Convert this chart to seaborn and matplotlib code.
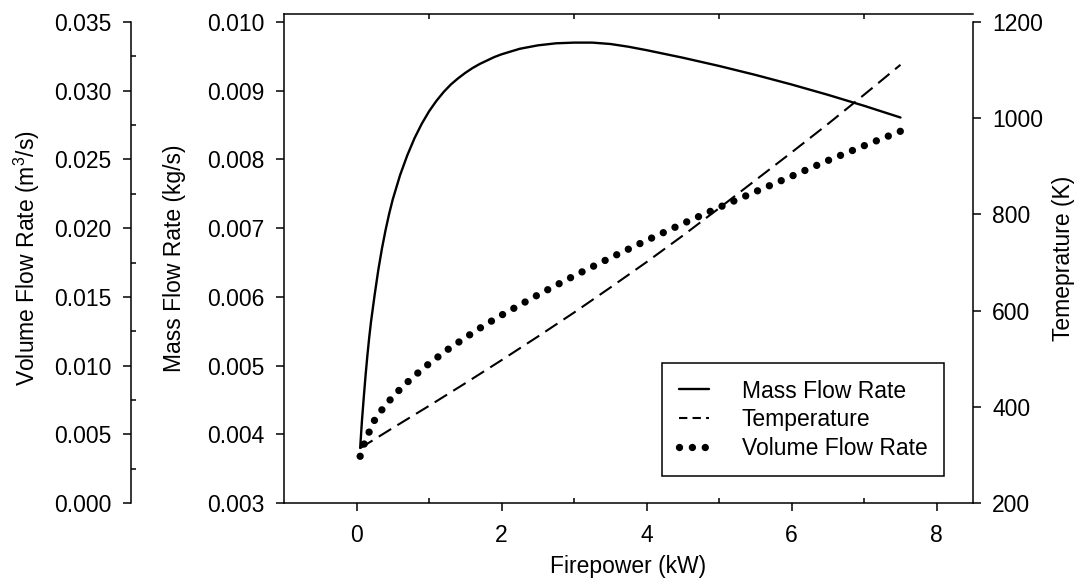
import matplotlib
matplotlib.use("Agg")
import matplotlib.pyplot as plt
from matplotlib.ticker import FixedLocator, FormatStrFormatter
from matplotlib.lines import Line2D
import seaborn as sns

# ---- data ----
mass_x = [0.05, 0.075, 0.10, 0.125, 0.15, 0.175, 0.20, 0.25, 0.30, 0.35, 0.40, 0.45,
          0.50, 0.60, 0.70, 0.80, 0.90, 1.00, 1.10, 1.20, 1.30, 1.40, 1.50, 1.60,
          1.70, 1.80, 1.90, 2.00, 2.25, 2.50, 2.75, 3.00, 3.25, 3.50, 3.75, 4.00,
          4.50, 5.00, 5.50, 6.00, 6.50, 7.00, 7.50]
mass_flow = [0.00380, 0.00420, 0.00454, 0.00486, 0.00515, 0.00541, 0.00564, 0.00603,
             0.00639, 0.00670, 0.00697, 0.00721, 0.00742, 0.00777, 0.00806, 0.00831,
             0.00852, 0.00870, 0.00885, 0.00898, 0.00909, 0.00918, 0.00926, 0.00933,
             0.00939, 0.00944, 0.00949, 0.00953, 0.00961, 0.00966, 0.00969, 0.00970,
             0.00970, 0.00968, 0.00964, 0.00959, 0.00948, 0.00936, 0.00923, 0.00909,
             0.00894, 0.00878, 0.00861]

temp_x = [0.05, 0.5, 1.0, 1.5, 2.0, 2.5, 3.0, 3.5, 4.0, 4.5, 5.0, 5.5, 6.0, 6.5,
          7.0, 7.5]
temperature = [314, 356, 402, 449, 497, 546, 596, 648, 701, 756, 813, 871, 929, 988,
               1049, 1111]

vol_x = [0.05, 0.10, 0.15, 0.20, 0.25, 0.35, 0.40, 0.50, 0.65, 0.80, 1.00, 1.25,
         1.50, 1.75, 2.00, 2.50, 3.00, 3.50, 4.00, 4.50, 5.00, 5.50, 6.00, 6.50,
         7.00, 7.50]
volume_flow = [0.00340, 0.00422, 0.00488, 0.00548, 0.00604, 0.00678, 0.00710, 0.00774,
               0.00854, 0.00926, 0.01014, 0.01114, 0.01203, 0.01289, 0.01367, 0.01514,
               0.01653, 0.01784, 0.01911, 0.02033, 0.02151, 0.02265, 0.02378, 0.02492,
               0.02600, 0.02705]

x_major = [0, 2, 4, 6, 8]
x_minor = [1, 3, 5, 7]
mass_ticks = [0.003, 0.004, 0.005, 0.006, 0.007, 0.008, 0.009, 0.010]
temp_ticks = [200, 400, 600, 800, 1000, 1200]
vol_ticks = [0.000, 0.005, 0.010, 0.015, 0.020, 0.025, 0.030, 0.035]
vol_minor = [0.0025, 0.0075, 0.0125, 0.0175, 0.0225, 0.0275, 0.0325]

series_labels = ["Mass Flow Rate", "Temperature", "Volume Flow Rate"]

sns.set_theme(style="ticks")
plt.rcParams['font.family'] = ['Liberation Sans', 'DejaVu Sans']
plt.rcParams['mathtext.fontset'] = 'custom'
plt.rcParams['mathtext.rm'] = 'Liberation Sans'
plt.rcParams['mathtext.it'] = 'Liberation Sans'
FS = 16.5

W, H = 1079, 583
fig = plt.figure(figsize=(W / 100, H / 100), dpi=100)
fig.patch.set_facecolor('white')
L, R, T, B = 284, 973, 14, 503
ax = fig.add_axes([L / W, 1 - B / H, (R - L) / W, (B - T) / H])
ax_t = ax.twinx()
ax_v = ax.twinx()
for a in (ax, ax_t, ax_v):
    a.set_facecolor('none')
    a.grid(False)

lw_spine = 1.1
tick_kw = dict(width=lw_spine, color='black', labelsize=FS, labelcolor='black')

# x axis
ax.set_xlim(-1, 8.5)
ax.xaxis.set_major_locator(FixedLocator(x_major))
ax.xaxis.set_minor_locator(FixedLocator(x_minor))
ax.tick_params(axis='x', which='major', direction='out', length=5.8, pad=9,
               top=False, bottom=True, **tick_kw)
ax.tick_params(axis='x', which='minor', direction='in', length=3.5,
               top=True, bottom=True, width=lw_spine, color='black')

# mass axis (inner left)
span_px = 481.0
ax.set_ylim(0.003, 0.003 + 0.007 * (B - T) / span_px)
ax.yaxis.set_major_locator(FixedLocator(mass_ticks))
ax.yaxis.set_major_formatter(FormatStrFormatter('%.3f'))
ax.tick_params(axis='y', which='major', direction='out', length=5.8, pad=8, **tick_kw)
for s in ('left', 'top', 'bottom'):
    ax.spines[s].set_visible(True)
    ax.spines[s].set_linewidth(lw_spine)
    ax.spines[s].set_color('black')
ax.spines['right'].set_visible(False)

# temperature axis (right)
ax_t.set_ylim(200, 200 + 1000 * (B - T) / span_px)
ax_t.yaxis.set_major_locator(FixedLocator(temp_ticks))
ax_t.tick_params(axis='y', which='major', direction='out', length=5.8, pad=8, **tick_kw)
for s in ('left', 'top', 'bottom'):
    ax_t.spines[s].set_visible(False)
ax_t.spines['right'].set_visible(True)
ax_t.spines['right'].set_bounds(200, 1200)
ax_t.spines['right'].set_linewidth(lw_spine)
ax_t.spines['right'].set_color('black')

# volume axis (outer left)
ax_v.set_ylim(0.0, 0.035 * (B - T) / span_px)
ax_v.spines['left'].set_position(('axes', (131 - L) / (R - L)))
ax_v.yaxis.set_ticks_position('left')
ax_v.yaxis.set_label_position('left')
ax_v.yaxis.set_major_locator(FixedLocator(vol_ticks))
ax_v.yaxis.set_minor_locator(FixedLocator(vol_minor))
ax_v.yaxis.set_major_formatter(FormatStrFormatter('%.3f'))
ax_v.tick_params(axis='y', which='major', direction='out', length=5.8, pad=8, **tick_kw)
ax_v.tick_params(axis='y', which='minor', direction='in', length=3.5,
                 width=lw_spine, color='black')
for s in ('right', 'top', 'bottom'):
    ax_v.spines[s].set_visible(False)
ax_v.spines['left'].set_visible(True)
ax_v.spines['left'].set_bounds(0.0, 0.035)
ax_v.spines['left'].set_linewidth(lw_spine)
ax_v.spines['left'].set_color('black')

# ---- lines ----
sns.lineplot(x=mass_x, y=mass_flow, ax=ax, color='black', linewidth=1.7,
             linestyle='-', legend=False)
sns.lineplot(x=temp_x, y=temperature, ax=ax_t, color='black', linewidth=1.5,
             linestyle=(0, (7, 3.5)), legend=False)
dot_style = (0, (0.001, 1.75))
sns.lineplot(x=vol_x, y=volume_flow, ax=ax_v, color='black', linewidth=5.3,
             linestyle=dot_style, dash_capstyle='round', legend=False)
ax.set_xlim(-1, 8.5)

# ---- labels ----
ax.set_xlabel("Firepower (kW)", fontsize=FS, color='black', labelpad=6)
ax.set_ylabel("Mass Flow Rate (kg/s)", fontsize=FS, color='black')
ax_t.set_ylabel("Temeprature (K)", fontsize=FS, color='black')
ax_v.set_ylabel("Volume Flow Rate (m$^3$/s)", fontsize=FS, color='black')
ax.yaxis.set_label_coords((186 - L) / (R - L), 0.5)
ax_v.yaxis.set_label_coords((42 - L) / (R - L), 0.5)
ax_t.yaxis.set_label_coords((1052 - L) / (R - L), 0.5)

# ---- legend ----
handles = [
    Line2D([], [], color='black', linewidth=1.7, linestyle='-'),
    Line2D([], [], color='black', linewidth=1.5, linestyle=(0, (4, 2.5))),
    Line2D([], [], color='black', linewidth=5.3, linestyle=dot_style,
           dash_capstyle='round'),
]
leg = ax_v.legend(handles, series_labels, loc='upper left',
                  bbox_to_anchor=(662 / W, 1 - 363 / H), bbox_transform=fig.transFigure,
                  borderaxespad=0, fontsize=FS, frameon=True, fancybox=False,
                  framealpha=1, edgecolor='black', handlelength=1.35,
                  handletextpad=1.4, borderpad=0.72, labelspacing=0.25)
leg.get_frame().set_linewidth(1.1)
for t in leg.get_texts():
    t.set_color('black')

fig.savefig("out.png", dpi=100, facecolor='white')
